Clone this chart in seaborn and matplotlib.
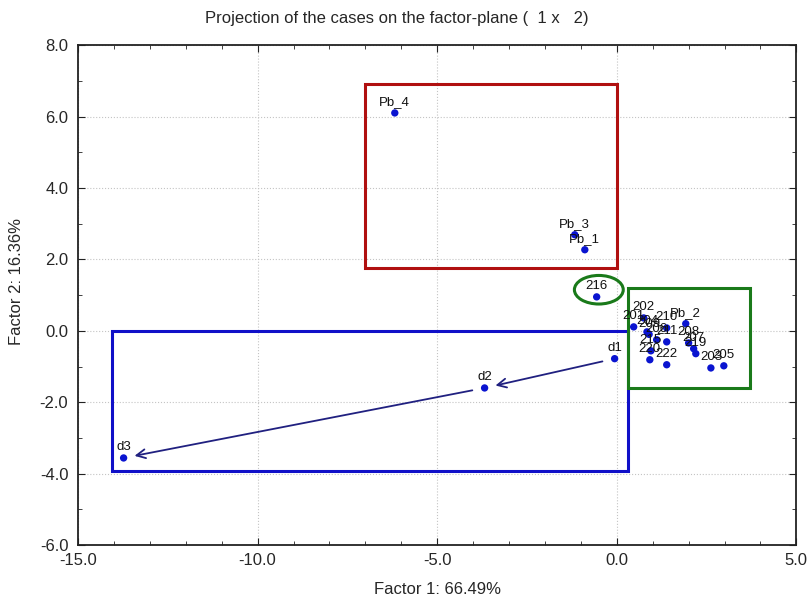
import numpy as np
import pandas as pd
import matplotlib
matplotlib.use('Agg')
import matplotlib.pyplot as plt
import seaborn as sns
from matplotlib.patches import Rectangle, Ellipse
from matplotlib.ticker import MultipleLocator, FormatStrFormatter

# case coordinates on factor plane
labels = ['Pb_4', 'Pb_3', 'Pb_1', '216', 'd1', 'd2', 'd3',
          '201', '202', '204', '209', '210', 'Pb_2', '206', '211', '208',
          '207', '219', '215', '220', '222', '203', '205']
factor1 = [-6.18, -1.17, -0.89, -0.56, -0.06, -3.68, -13.73,
           0.47, 0.75, 0.84, 0.90, 1.39, 1.92, 1.11, 1.39, 2.00,
           2.14, 2.20, 0.95, 0.92, 1.39, 2.62, 2.98]
factor2 = [6.10, 2.69, 2.27, 0.95, -0.78, -1.60, -3.56,
           0.11, 0.36, -0.03, -0.10, 0.08, 0.20, -0.25, -0.31, -0.34,
           -0.50, -0.64, -0.56, -0.81, -0.95, -1.04, -0.98]

df = pd.DataFrame({'label': labels, 'f1': factor1, 'f2': factor2})

sns.set_style('ticks')
plt.rcParams['font.family'] = ['Liberation Sans', 'DejaVu Sans']

fig = plt.figure(figsize=(8.09, 6.01), dpi=100)
ax = fig.add_axes([0.0964, 0.093, 0.888, 0.832])

sns.scatterplot(data=df, x='f1', y='f2', color='#0a14d0', s=28,
                edgecolor='none', ax=ax, zorder=5)

for _, r in df.iterrows():
    ax.annotate(r['label'], (r['f1'], r['f2']), xytext=(0, 3.5),
                textcoords='offset points', ha='center', va='bottom',
                fontsize=9.5, color='#111111', zorder=6)

# d1 -> d2 -> d3 arrows
pts = df.set_index('label')
for a, b in [('d1', 'd2'), ('d2', 'd3')]:
    ax.annotate('', xy=(pts.loc[b, 'f1'], pts.loc[b, 'f2']),
                xytext=(pts.loc[a, 'f1'], pts.loc[a, 'f2']),
                arrowprops=dict(arrowstyle='->', color='#202080', lw=1.3,
                                shrinkA=9, shrinkB=8, mutation_scale=16))

# highlight boxes
ax.add_patch(Rectangle((-7.0, 1.76), 7.0, 5.14, fill=False,
                       edgecolor='#b01010', lw=2.2, zorder=4))
ax.add_patch(Rectangle((-14.05, -3.92), 14.36, 3.92, fill=False,
                       edgecolor='#1010c8', lw=2.2, zorder=4))
ax.add_patch(Rectangle((0.31, -1.6), 3.39, 2.8, fill=False,
                       edgecolor='#1a7a1a', lw=2.2, zorder=4))
ax.add_patch(Ellipse((-0.5, 1.15), 1.36, 0.8, fill=False,
                     edgecolor='#1a7a1a', lw=2.2, zorder=4))

ax.set_xlim(-15, 5)
ax.set_ylim(-6, 8)
ax.xaxis.set_major_locator(MultipleLocator(5))
ax.xaxis.set_minor_locator(MultipleLocator(1))
ax.yaxis.set_major_locator(MultipleLocator(2))
ax.yaxis.set_minor_locator(MultipleLocator(1))
ax.xaxis.set_major_formatter(FormatStrFormatter('%.1f'))
ax.yaxis.set_major_formatter(FormatStrFormatter('%.1f'))
ax.tick_params(which='both', direction='in', top=True, right=True,
               labelsize=12, color='#222222')
ax.tick_params(which='major', length=5)
ax.tick_params(which='minor', length=3)
ax.tick_params(axis='x', which='major', pad=6)
ax.tick_params(axis='y', which='major', pad=7)
ax.grid(True, which='major', linestyle=':', color='#c4c4c4', lw=0.8)
for s in ax.spines.values():
    s.set_linewidth(1.3)
    s.set_color('#222222')

fig.text(0.49, 0.97, 'Projection of the cases on the factor-plane (  1 x   2)',
         fontsize=12, ha='center', va='center')
ax.set_xlabel('Factor 1: 66.49%', fontsize=12, labelpad=10)
ax.set_ylabel('Factor 2: 16.36%', fontsize=12)
ax.yaxis.set_label_coords(-0.075, 0.527)

fig.savefig('out.png', dpi=100)
